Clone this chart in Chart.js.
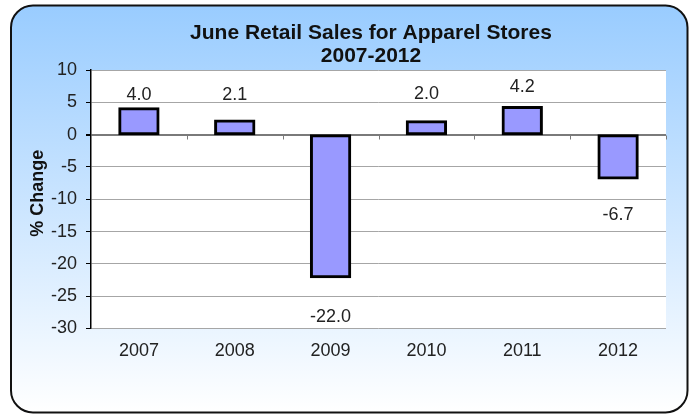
<!DOCTYPE html>
<html>
<head>
<meta charset="utf-8">
<script src="https://cdn.jsdelivr.net/npm/chart.js@4/dist/chart.umd.min.js"></script>
<style>
  html, body { margin: 0; padding: 0; background: #ffffff; }
  canvas { display: block; }
</style>
</head>
<body>
<canvas id="chart" width="696" height="414"></canvas>
<script>
// June retail sales, apparel stores: year-over-year % change
const years = ['2007', '2008', '2009', '2010', '2011', '2012'];
const pctChange = [4.0, 2.1, -22.0, 2.0, 4.2, -6.7];
const yTicks = [10, 5, 0, -5, -10, -15, -20, -25, -30];
const titleLines = ['June Retail Sales for Apparel Stores', '2007-2012'];
const yAxisTitle = '% Change';

const FONT = '"Liberation Sans", Arial, Helvetica, sans-serif';
const TEXT = '#222222';

// distance (px) from the end of each bar to the centre of its value label
const labelGap = [14, 26, 40, 28, 20, 37];

const framePlugin = {
  id: 'frame',
  beforeDraw(chart) {
    const ctx = chart.ctx;
    const W = chart.width, H = chart.height;
    ctx.save();
    ctx.fillStyle = '#ffffff';
    ctx.fillRect(0, 0, W, H);

    // rounded panel with a blue-to-white vertical gradient
    const x0 = 11, y0 = 5.5, x1 = 687.5, y1 = 412.5, r = 22;
    const g = ctx.createLinearGradient(0, y0, 0, y1);
    g.addColorStop(0, '#99ccff');
    g.addColorStop(1, '#ffffff');
    ctx.beginPath();
    ctx.roundRect(x0, y0, x1 - x0, y1 - y0, r);
    ctx.fillStyle = g;
    ctx.fill();
    ctx.lineWidth = 2;
    ctx.strokeStyle = '#111111';
    ctx.stroke();

    // white plot area
    const a = chart.chartArea;
    ctx.fillStyle = '#ffffff';
    ctx.fillRect(a.left, a.top, a.right - a.left, a.bottom - a.top);
    ctx.restore();
  },
  beforeDatasetsDraw(chart) {
    // category axis crossing at zero, with tick marks between categories
    const ctx = chart.ctx;
    const xs = chart.scales.x, ys = chart.scales.y;
    const y0 = Math.round(ys.getPixelForValue(0)) + 0.5;
    ctx.save();
    ctx.strokeStyle = '#7a7a7a';
    ctx.lineWidth = 1;
    const n = years.length;
    const bounds = [];
    for (let i = 0; i <= n; i++) {
      let x;
      if (i === 0) x = chart.chartArea.left;
      else if (i === n) x = chart.chartArea.right;
      else x = (xs.getPixelForTick(i - 1) + xs.getPixelForTick(i)) / 2;
      bounds.push(Math.round(x) + 0.5);
    }
    ctx.beginPath();
    bounds.forEach((x, i) => {
      if (i === 0) return;
      ctx.moveTo(x, y0);
      ctx.lineTo(x, y0 + 4);
    });
    ctx.stroke();
    ctx.restore();
  },
  afterDatasetsDraw(chart) {
    const ctx = chart.ctx;
    const meta = chart.getDatasetMeta(0);
    ctx.save();
    ctx.font = '18px ' + FONT;
    ctx.fillStyle = TEXT;
    ctx.textAlign = 'center';
    ctx.textBaseline = 'middle';
    meta.data.forEach((bar, i) => {
      const v = pctChange[i];
      const y = v >= 0 ? bar.y - labelGap[i] : bar.y + labelGap[i];
      ctx.fillText(v.toFixed(1), bar.x, y);
    });
    ctx.restore();
  },
  afterDraw(chart) {
    const ctx = chart.ctx;
    ctx.save();
    ctx.fillStyle = '#111111';
    ctx.textAlign = 'center';
    ctx.textBaseline = 'alphabetic';
    ctx.font = 'bold 21px ' + FONT;
    ctx.fillText(titleLines[0], 371, 39);
    ctx.fillText(titleLines[1], 371, 61.5);

    // rotated value-axis title
    const a = chart.chartArea;
    ctx.translate(43, (a.top + a.bottom) / 2 - 6);
    ctx.rotate(-Math.PI / 2);
    ctx.font = 'bold 18px ' + FONT;
    ctx.fillText(yAxisTitle, 0, 0);
    ctx.restore();
  }
};

new Chart(document.getElementById('chart'), {
  type: 'bar',
  data: {
    labels: years,
    datasets: [{
      data: pctChange,
      backgroundColor: '#9999ff',
      borderColor: '#000000',
      borderWidth: 3,
      borderSkipped: false,
      inflateAmount: 1.5,
      barPercentage: 0.40,
      categoryPercentage: 1.0
    }]
  },
  options: {
    responsive: false,
    animation: false,
    devicePixelRatio: 1,
    layout: { padding: { top: 70, right: 30, left: 0, bottom: 0 } },
    plugins: {
      legend: { display: false },
      title: { display: false },
      tooltip: { enabled: false }
    },
    scales: {
      x: {
        position: 'bottom',
        grid: { display: false, drawTicks: false },
        border: { display: false },
        ticks: {
          font: { family: FONT, size: 18 },
          color: TEXT,
          padding: 12,
          maxRotation: 0
        },
        afterFit(scale) { scale.height = 85.5; }
      },
      y: {
        min: Math.min(...yTicks),
        max: Math.max(...yTicks),
        afterFit(scale) { scale.width = 91; },
        ticks: {
          stepSize: yTicks[0] - yTicks[1],
          font: { family: FONT, size: 18 },
          color: TEXT,
          padding: 9
        },
        grid: {
          color: (c) => (c.tick && c.tick.value === 0 ? '#7a7a7a' : '#a6a6a6'),
          lineWidth: (c) => (c.tick && c.tick.value === 0 ? 2 : 1),
          tickColor: '#000000',
          tickLength: 5,
          drawTicks: true
        },
        border: { display: true, color: '#000000', width: 1.5 }
      }
    }
  },
  plugins: [framePlugin]
});
</script>
</body>
</html>
